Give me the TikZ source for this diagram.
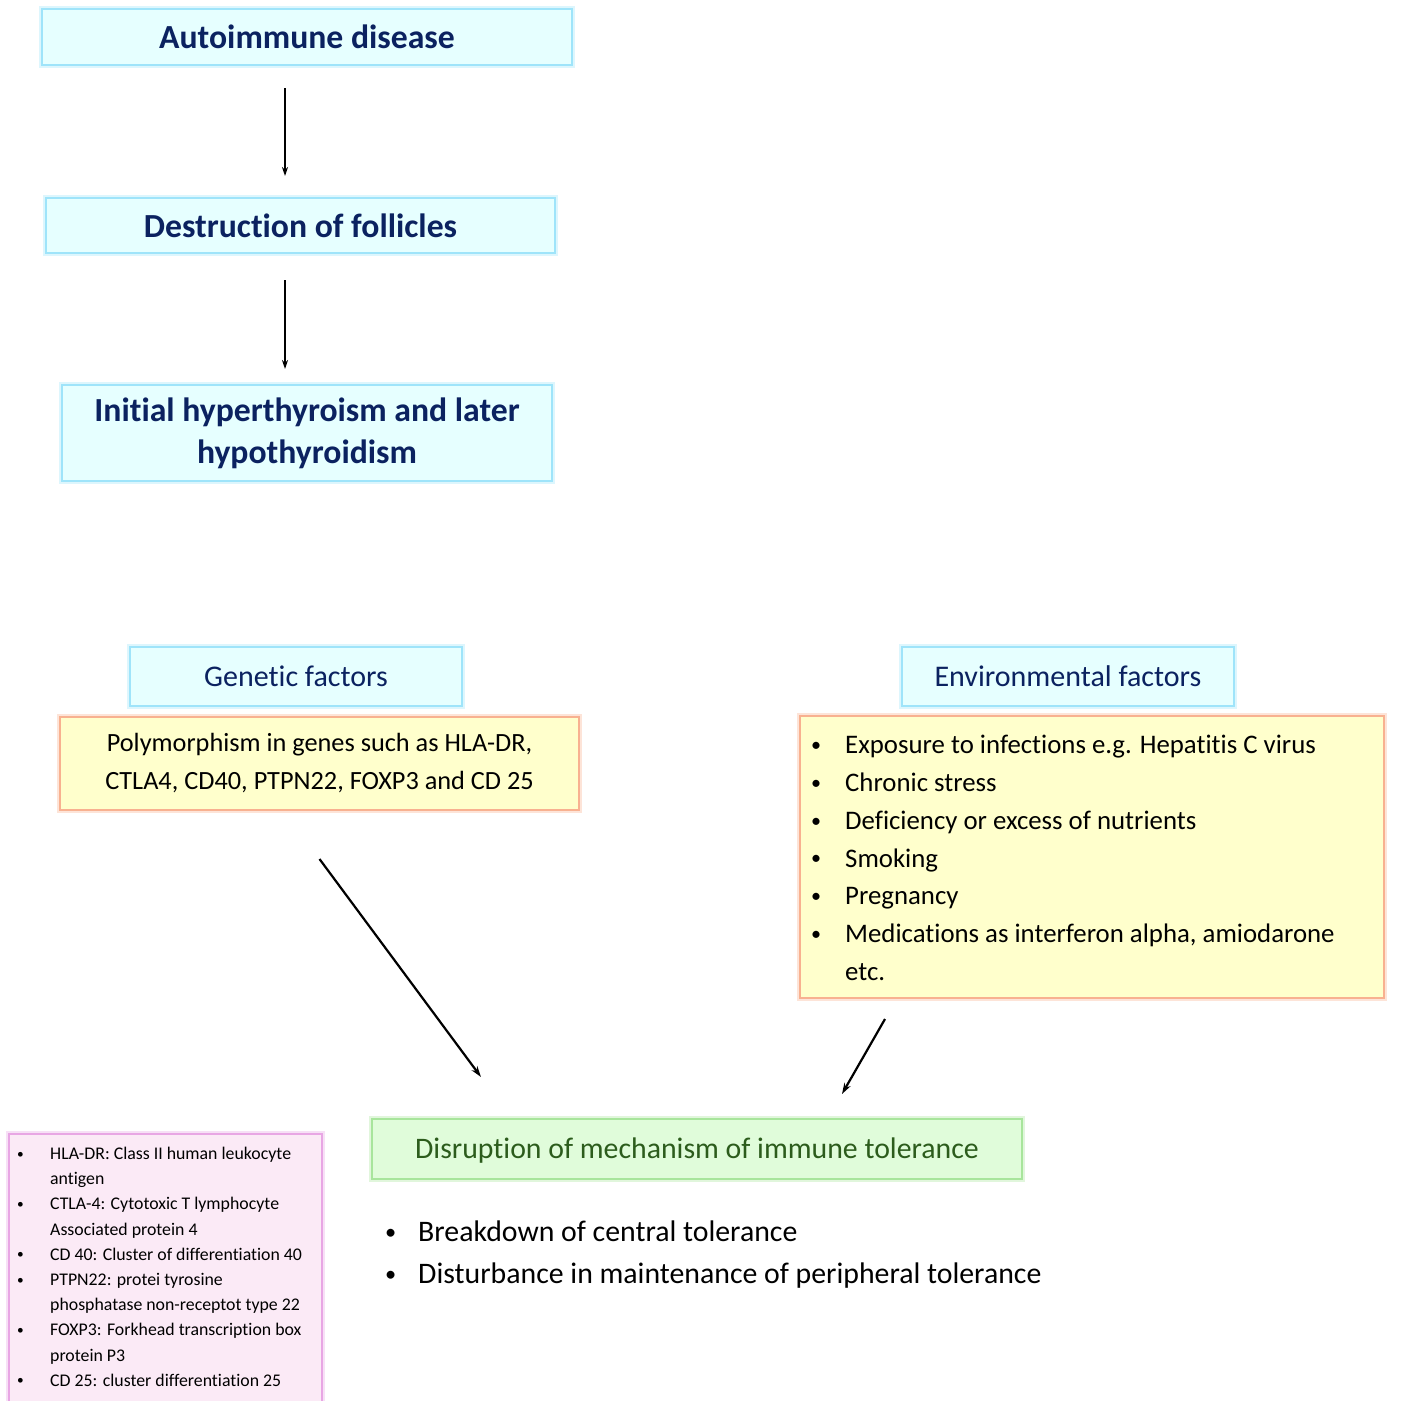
\documentclass[tikz,border=0pt]{standalone}
\usepackage{fontspec}
\setmainfont{Carlito}[Ligatures={NoCommon}]
\usetikzlibrary{arrows.meta}
\definecolor{navy}{HTML}{0B2260}
\definecolor{cyanfill}{HTML}{E6FFFF}
\definecolor{cyanline}{HTML}{9FE4FA}
\definecolor{yelfill}{HTML}{FFFFCC}
\definecolor{yelline}{HTML}{F8B190}
\definecolor{grnfill}{HTML}{E0FCDA}
\definecolor{grnline}{HTML}{A8E59C}
\definecolor{grntext}{HTML}{2C5C1C}
\definecolor{pinkfill}{HTML}{FBEAF6}
\definecolor{pinkline}{HTML}{E8A6E4}
\tikzset{
  glowbox/.style={line width=2pt, inner sep=0pt,
    preaction={draw=#1, draw opacity=0.35, line width=6pt}},
  cyanbox/.style={glowbox=cyanline, draw=cyanline, fill=cyanfill, text=navy, align=center},
  yelbox/.style={glowbox=yelline, draw=yelline, fill=yelfill, align=center},
  grnbox/.style={glowbox=grnline, draw=grnline, fill=grnfill, text=grntext},
  pinkbox/.style={glowbox=pinkline, draw=pinkline, fill=pinkfill},
  arr/.style={-{Stealth[length=9pt,width=6pt]}, line width=1.6pt, black},
  darr/.style={-{Stealth[length=11pt,width=7pt]}, line width=2.2pt, black},
  listtext/.style={inner sep=0pt, anchor=north west, align=left},
}
\newcommand{\bul}[1]{\makebox[#1][l]{\raisebox{0.08em}{\scalebox{0.75}{\textbullet}}}}
\begin{document}
\begin{tikzpicture}[x=1pt,y=-1pt]
\useasboundingbox (0,0) rectangle (1404,1400);
\clip (0,0) rectangle (1404,1400);
% top chain
\node[cyanbox, minimum width=530pt, minimum height=56pt, font=\fontsize{33.7}{40}\selectfont\bfseries] (auto) at (307,37) {Autoimmune disease};
\node[cyanbox, minimum width=509pt, minimum height=55pt, font=\fontsize{33.7}{40}\selectfont\bfseries] (destr) at (300.5,225.5) {Destruction of follicles};
\node[cyanbox, minimum width=490pt, minimum height=96pt, font=\fontsize{33.7}{42}\selectfont\bfseries] (hyper) at (307,433) {Initial hyperthyroism and later\\hypothyroidism};
\coordinate (ax) at (285,0);
\draw[arr, shorten <=22pt, shorten >=21pt] (auto.south -| ax) -- (destr.north -| ax);
\draw[arr, shorten <=26pt, shorten >=15pt] (destr.south -| ax) -- (hyper.north -| ax);
% genetic
\node[cyanbox, minimum width=332pt, minimum height=59pt, font=\fontsize{30}{36}\selectfont] (gen) at (296,676.5) {Genetic factors};
\node[yelbox, minimum width=519pt, minimum height=93pt, font=\fontsize{26.3}{38}\selectfont] (poly) at (319.5,763.5) {Polymorphism in genes such as HLA-DR,\\CTLA4, CD40, PTPN22, FOXP3 and CD 25};
% environmental
\node[cyanbox, minimum width=332pt, minimum height=59pt, font=\fontsize{30}{36}\selectfont] (env) at (1068,676.5) {Environmental factors};
\node[yelbox, minimum width=584pt, minimum height=282pt] (envbox) at (1092,857) {};
\node[listtext, font=\fontsize{26.8}{37.8}\selectfont] (envlist) at (811,735) {%
\bul{34pt}Exposure to infections e.g. Hepatitis C virus\\
\bul{34pt}Chronic stress\\
\bul{34pt}Deficiency or excess of nutrients\\
\bul{34pt}Smoking\\
\bul{34pt}Pregnancy\\
\bul{34pt}Medications as interferon alpha, amiodarone\\
\hspace*{34pt}etc.};
% disruption
\node[grnbox, minimum width=650pt, minimum height=60pt, text height=21pt, text depth=3pt, font=\fontsize{29.8}{36}\selectfont] (disr) at (697,1149) {Disruption of mechanism of immune tolerance};
\node[listtext, font=\fontsize{29.8}{42}\selectfont] (tol) at (385,1221) {%
\bul{33pt}Breakdown of central tolerance\\
\bul{33pt}Disturbance in maintenance of peripheral tolerance};
% connectors
\coordinate (g1) at ([yshift=-48pt]poly.south);
\coordinate (g2) at (481,1077);
\draw[darr] (g1) -- (g2);
\coordinate (e1) at (885,1019);
\coordinate (e2) at (842,1094);
\draw[darr] (e1) -- (e2);
% legend box
\node[pinkbox, minimum width=313pt, minimum height=300pt, anchor=north west] (legend) at (8,1133) {};
\node[listtext, font=\fontsize{17.8}{25.2}\selectfont] (legtext) at (17,1147) {%
\bul{33pt}HLA-DR: Class II human leukocyte\\
\hspace*{33pt}antigen\\
\bul{33pt}CTLA-4: Cytotoxic T lymphocyte\\
\hspace*{33pt}Associated protein 4\\
\bul{33pt}CD 40: Cluster of differentiation 40\\
\bul{33pt}PTPN22: protei tyrosine\\
\hspace*{33pt}phosphatase non-receptot type 22\\
\bul{33pt}FOXP3: Forkhead transcription box\\
\hspace*{33pt}protein P3\\
\bul{33pt}CD 25: cluster differentiation 25};
\end{tikzpicture}
\end{document}
